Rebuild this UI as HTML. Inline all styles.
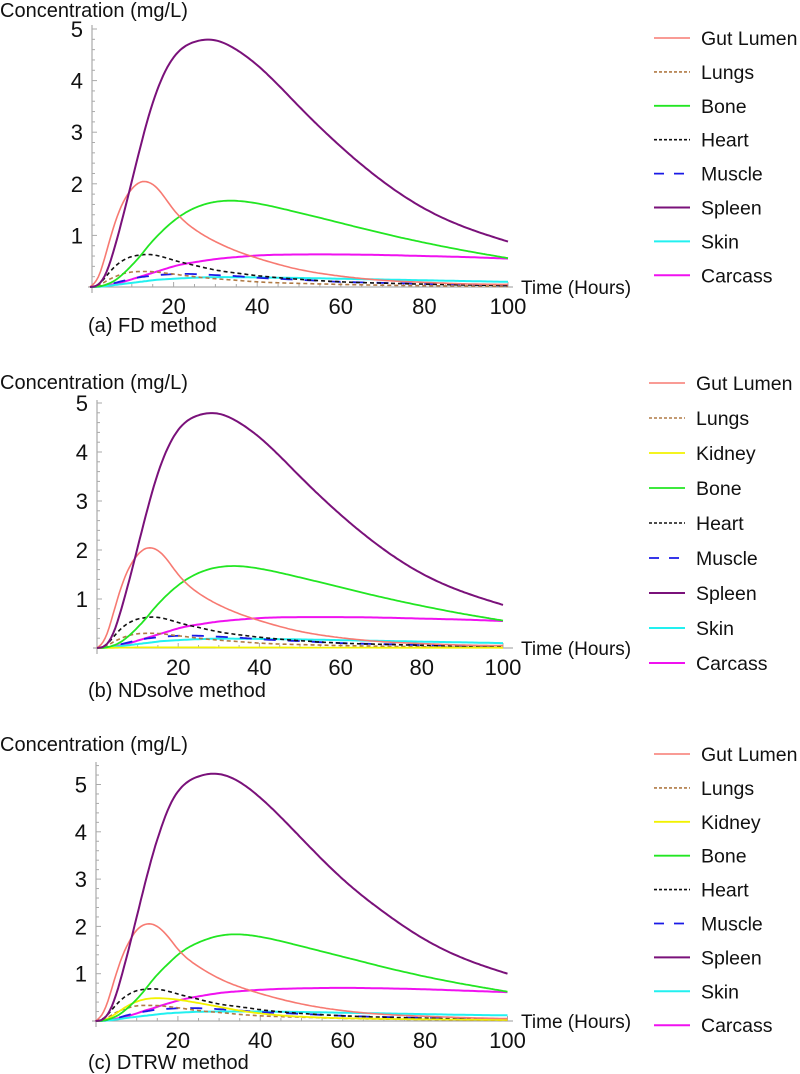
<!DOCTYPE html>
<html><head><meta charset="utf-8">
<style>
html,body{margin:0;padding:0;background:#fff;}
svg{display:block;}
text{font-family:"Liberation Sans",sans-serif;fill:#111;}
</style></head>
<body>
<svg id="chart" width="800" height="1074" viewBox="0 0 800 1074" xmlns="http://www.w3.org/2000/svg"></svg>
<script>
const times = [0,2,4,6,8,10,12,14,16,18,20,25,30,35,40,50,60,70,80,90,100];
const xTicks = [20,40,60,80,100];

// Panel (a) FD method
const aGut     = [0,0.2,0.7,1.25,1.65,1.9,2.03,2.03,1.92,1.72,1.5,1.12,0.88,0.7,0.56,0.34,0.21,0.13,0.09,0.06,0.05];
const aLungs   = [0,0.03,0.12,0.2,0.26,0.29,0.3,0.3,0.29,0.27,0.25,0.2,0.16,0.13,0.1,0.07,0.05,0.035,0.025,0.018,0.012];
const aBone    = [0,0.01,0.05,0.13,0.26,0.42,0.6,0.8,0.98,1.14,1.28,1.53,1.65,1.67,1.62,1.44,1.24,1.04,0.86,0.7,0.56];
const aHeart   = [0,0.05,0.22,0.4,0.52,0.59,0.62,0.63,0.61,0.57,0.52,0.42,0.33,0.27,0.22,0.15,0.1,0.075,0.055,0.04,0.03];
const aMuscle  = [0,0.01,0.04,0.08,0.12,0.16,0.19,0.21,0.23,0.24,0.25,0.25,0.23,0.21,0.18,0.14,0.1,0.08,0.06,0.045,0.03];
const aSpleen  = [0,0.05,0.3,0.8,1.4,2.05,2.7,3.3,3.8,4.18,4.45,4.75,4.78,4.6,4.3,3.5,2.72,2.05,1.52,1.15,0.88];
const aSkin    = [0,0.005,0.02,0.04,0.06,0.08,0.1,0.12,0.14,0.15,0.16,0.18,0.19,0.19,0.185,0.175,0.16,0.145,0.13,0.115,0.1];
const aCarcass = [0,0.01,0.03,0.06,0.1,0.15,0.2,0.25,0.3,0.35,0.4,0.48,0.54,0.58,0.61,0.63,0.63,0.62,0.6,0.58,0.55];

// Panel (b) NDsolve method
const bGut     = [0,0.2,0.7,1.25,1.65,1.9,2.03,2.03,1.92,1.72,1.5,1.12,0.88,0.7,0.56,0.34,0.21,0.13,0.09,0.06,0.05];
const bLungs   = [0,0.03,0.12,0.2,0.26,0.29,0.3,0.3,0.29,0.27,0.25,0.2,0.16,0.13,0.1,0.07,0.05,0.035,0.025,0.018,0.012];
const bKidney  = [0,0.002,0.005,0.008,0.01,0.012,0.013,0.013,0.013,0.013,0.012,0.012,0.011,0.01,0.01,0.009,0.008,0.007,0.006,0.006,0.005];
const bBone    = [0,0.01,0.05,0.13,0.26,0.42,0.6,0.8,0.98,1.14,1.28,1.53,1.65,1.67,1.62,1.44,1.24,1.04,0.86,0.7,0.56];
const bHeart   = [0,0.05,0.22,0.4,0.52,0.59,0.62,0.63,0.61,0.57,0.52,0.42,0.33,0.27,0.22,0.15,0.1,0.075,0.055,0.04,0.03];
const bMuscle  = [0,0.01,0.04,0.08,0.12,0.16,0.19,0.21,0.23,0.24,0.25,0.25,0.23,0.21,0.18,0.14,0.1,0.08,0.06,0.045,0.03];
const bSpleen  = [0,0.05,0.3,0.8,1.4,2.05,2.7,3.3,3.8,4.18,4.45,4.75,4.78,4.6,4.3,3.5,2.72,2.05,1.52,1.15,0.88];
const bSkin    = [0,0.005,0.02,0.04,0.06,0.08,0.1,0.12,0.14,0.15,0.16,0.18,0.19,0.19,0.185,0.175,0.16,0.145,0.13,0.115,0.1];
const bCarcass = [0,0.01,0.03,0.06,0.1,0.15,0.2,0.25,0.3,0.35,0.4,0.48,0.54,0.58,0.61,0.63,0.63,0.62,0.6,0.58,0.55];

// Panel (c) DTRW method
const cGut     = [0,0.2,0.7,1.25,1.65,1.92,2.04,2.04,1.93,1.74,1.52,1.15,0.9,0.72,0.58,0.36,0.22,0.14,0.1,0.07,0.05];
const cLungs   = [0,0.03,0.13,0.22,0.28,0.32,0.33,0.33,0.32,0.3,0.28,0.22,0.18,0.14,0.11,0.08,0.055,0.04,0.03,0.02,0.015];
const cKidney  = [0,0.02,0.1,0.22,0.33,0.41,0.46,0.48,0.48,0.47,0.45,0.38,0.3,0.22,0.16,0.09,0.06,0.045,0.035,0.03,0.025];
const cBone    = [0,0.01,0.06,0.15,0.29,0.46,0.66,0.88,1.07,1.24,1.4,1.66,1.8,1.83,1.78,1.58,1.36,1.14,0.94,0.77,0.62];
const cHeart   = [0,0.06,0.24,0.43,0.56,0.64,0.67,0.68,0.66,0.62,0.57,0.46,0.36,0.3,0.24,0.16,0.11,0.08,0.06,0.045,0.035];
const cMuscle  = [0,0.01,0.04,0.08,0.13,0.17,0.2,0.23,0.25,0.26,0.27,0.27,0.25,0.22,0.19,0.15,0.11,0.085,0.065,0.048,0.035];
const cSpleen  = [0,0.05,0.32,0.85,1.5,2.2,2.9,3.55,4.1,4.55,4.85,5.17,5.22,5.05,4.72,3.86,3.0,2.3,1.72,1.3,1.0];
const cSkin    = [0,0.005,0.02,0.045,0.07,0.09,0.11,0.13,0.15,0.165,0.175,0.195,0.2,0.2,0.2,0.19,0.175,0.16,0.145,0.13,0.12];
const cCarcass = [0,0.01,0.03,0.07,0.11,0.16,0.22,0.27,0.33,0.38,0.43,0.52,0.59,0.63,0.66,0.69,0.7,0.69,0.67,0.64,0.61];

const yTicksA = [1,2,3,4,5];
const yTicksC = [1,2,3,4,5];

const STY = {
  "Gut Lumen":{c:"#f77a72",w:1.6,d:""},
  "Lungs":{c:"#b07a45",w:1.6,d:"4 3"},
  "Kidney":{c:"#f2f200",w:1.8,d:""},
  "Bone":{c:"#22e622",w:1.8,d:""},
  "Heart":{c:"#111",w:1.6,d:"4 3"},
  "Muscle":{c:"#1a1ae6",w:1.8,d:"12 12"},
  "Spleen":{c:"#7a117a",w:2,d:""},
  "Skin":{c:"#22f0f0",w:2,d:""},
  "Carcass":{c:"#f011f0",w:2,d:""}
};

const svg = document.getElementById('chart');
const NS = "http://www.w3.org/2000/svg";
function mk(tag, attrs, parent){
  const e = document.createElementNS(NS, tag);
  for (const k in attrs) e.setAttribute(k, attrs[k]);
  parent.appendChild(e);
  return e;
}
// natural cubic spline over non-uniform knots
function spline(xs, ys){
  const n = xs.length, h=[], al=[], l=[1], mu=[0], z=[0], c=new Array(n).fill(0), b=[], d=[];
  for (let i=0;i<n-1;i++) h.push(xs[i+1]-xs[i]);
  for (let i=1;i<n-1;i++) al[i]=3/h[i]*(ys[i+1]-ys[i])-3/h[i-1]*(ys[i]-ys[i-1]);
  for (let i=1;i<n-1;i++){
    l[i]=2*(xs[i+1]-xs[i-1])-h[i-1]*mu[i-1];
    mu[i]=h[i]/l[i];
    z[i]=(al[i]-h[i-1]*z[i-1])/l[i];
  }
  for (let j=n-2;j>=0;j--){
    c[j]=(j<n-1? z[j]-mu[j]*c[j+1] : 0);
    if (j===0) c[0]=0;
    b[j]=(ys[j+1]-ys[j])/h[j]-h[j]*(c[j+1]+2*c[j])/3;
    d[j]=(c[j+1]-c[j])/(3*h[j]);
  }
  return t=>{
    let i=0; while(i<n-2 && t>xs[i+1]) i++;
    const dx=t-xs[i];
    return ys[i]+b[i]*dx+c[i]*dx*dx+d[i]*dx*dx*dx;
  };
}

function panel(cfg){
  const g = mk('g',{},svg);
  
  
  const X = t => cfg.x0 + t*cfg.sx;
  const Y = v => cfg.y0 - v*cfg.sy;
  const yt = mk('text',{x:0,y:cfg.titleY,'font-size':20},g);
  
  
  yt.textContent = "Concentration (mg/L)";
  const ax = mk('line',{x1:cfg.axX-4,y1:cfg.y0,x2:513,y2:cfg.y0,stroke:'#999','stroke-width':1},g);
  
  
  const ay = mk('line',{x1:cfg.axX,y1:cfg.y0+6,x2:cfg.axX,y2:cfg.yTop,stroke:'#999','stroke-width':1},g);
  
  
  for (let v=0.2; Y(v)>=cfg.yTop; v+=0.2){
    const major = Math.abs(v-Math.round(v))<0.01;
    mk('line',{x1:cfg.axX,y1:Y(v),x2:cfg.axX+(major?5:3),y2:Y(v),stroke:'#aaa','stroke-width':1},g);
  }
  for (let t=5; t<=100; t+=5){
    const major = t%20===0;
    mk('line',{x1:X(t),y1:cfg.y0,x2:X(t),y2:cfg.y0-(major?5:3),stroke:'#aaa','stroke-width':1},g);
  }
  cfg.yTicks.forEach(v=>{
    const tx = mk('text',{x:cfg.axX-9,y:Y(v)+8,'font-size':22,'text-anchor':'end'},g);
    
    
    tx.textContent = v;
  });
  xTicks.forEach(t=>{
    const tx = mk('text',{x:X(t),y:cfg.y0+27,'font-size':22,'text-anchor':'middle'},g);
    
    
    tx.textContent = t;
  });
  const xt = mk('text',{x:521,y:cfg.y0+7,'font-size':19},g);
  
  
  xt.textContent = "Time (Hours)";
  const cap = mk('text',{x:cfg.capX,y:cfg.capY,'font-size':20},g);
  
  
  cap.textContent = cfg.caption;
  const order = ["Carcass","Skin","Muscle","Lungs","Heart","Kidney","Bone","Gut Lumen","Spleen"];
  order.forEach(name=>{
    const vals = cfg.series[name]; if(!vals) return;
    const s = STY[name];
    const f = spline(times, vals);
    let d = "";
    for (let t=0; t<=100; t+=0.5){
      const v = Math.max(0, f(t));
      d += (t===0?"M":"L")+X(t).toFixed(1)+","+Y(v).toFixed(1);
    }
    const p = mk('path',{d:d,fill:'none',stroke:s.c,'stroke-width':s.w,'stroke-dasharray':s.d,'stroke-linejoin':'round'},g);
    
    
  });
  const names = Object.keys(cfg.series);
  names.forEach((name,i)=>{
    const s = STY[name];
    const y = cfg.legY + i*cfg.legS;
    const lg = mk('g',{},g);
    
    
    mk('line',{x1:cfg.legX,y1:y,x2:cfg.legX+36,y2:y,stroke:s.c,'stroke-width':s.w,'stroke-dasharray':name==="Muscle"?"10 10":(s.d?"3 2":"")},lg);
    const t = mk('text',{x:cfg.legX+47,y:y+7,'font-size':19.5},lg);
    t.textContent = name;
  });
}

panel({id:'a',x0:90,sx:4.18,y0:287,sy:51.6,axX:92,yTop:25,titleY:17,yTicks:yTicksA,
  caption:"(a)  FD method",capX:88,capY:332,legX:654,legY:38,legS:33.9,
  series:{"Gut Lumen":aGut,"Lungs":aLungs,"Bone":aBone,"Heart":aHeart,"Muscle":aMuscle,"Spleen":aSpleen,"Skin":aSkin,"Carcass":aCarcass}});
panel({id:'b',x0:97,sx:4.06,y0:648,sy:49,axX:97,yTop:400,titleY:389,yTicks:yTicksA,
  caption:"(b) NDsolve method",capX:88,capY:697,legX:649,legY:383,legS:35,
  series:{"Gut Lumen":bGut,"Lungs":bLungs,"Kidney":bKidney,"Bone":bBone,"Heart":bHeart,"Muscle":bMuscle,"Spleen":bSpleen,"Skin":bSkin,"Carcass":bCarcass}});
panel({id:'c',x0:95.5,sx:4.12,y0:1021,sy:47.3,axX:96,yTop:762,titleY:751,yTicks:yTicksC,
  caption:"(c) DTRW method",capX:88,capY:1069,legX:654,legY:754,legS:33.9,
  series:{"Gut Lumen":cGut,"Lungs":cLungs,"Kidney":cKidney,"Bone":cBone,"Heart":cHeart,"Muscle":cMuscle,"Spleen":cSpleen,"Skin":cSkin,"Carcass":cCarcass}});
</script>
</body></html>
